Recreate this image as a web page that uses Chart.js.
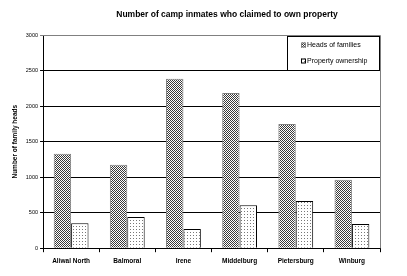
<!DOCTYPE html>
<html>
<head>
<meta charset="utf-8">
<script src="https://cdn.jsdelivr.net/npm/chart.js@4/dist/chart.umd.min.js"></script>
<style>
  html, body { margin: 0; padding: 0; background: #fff; }
  #wrap { width: 407px; height: 276px; position: relative; }
</style>
</head>
<body>
<div id="wrap"><canvas id="chart" width="407" height="276"></canvas></div>
<script>
const camps = ['Aliwal North', 'Balmoral', 'Irene', 'Middelburg', 'Pietersburg', 'Winburg']
const headsOfFamilies = [1330, 1175, 2385, 2185, 1750, 965]
const propertyOwnership = [350, 440, 270, 605, 665, 340]
const yTicks = [0, 500, 1000, 1500, 2000, 2500, 3000]
const seriesNames = ['Heads of families', 'Property ownership']

// little fill patterns like the old office chart
function checkerPattern() {
  const c = document.createElement('canvas')
  c.width = 2; c.height = 2
  const g = c.getContext('2d')
  g.fillStyle = '#fff'
  g.fillRect(0, 0, 2, 2)
  g.fillStyle = '#3a3a3a'
  g.fillRect(0, 0, 1, 1)
  g.fillRect(1, 1, 1, 1)
  return g.createPattern(c, 'repeat')
}

function dotPattern() {
  const c = document.createElement('canvas')
  c.width = 3; c.height = 3
  const g = c.getContext('2d')
  g.fillStyle = '#fff'
  g.fillRect(0, 0, 3, 3)
  g.fillStyle = '#777'
  g.fillRect(1, 1, 1, 1)
  return g.createPattern(c, 'repeat')
}

const heads = checkerPattern()
const dots = dotPattern()

// title sits a bit right of the canvas centre in the original
const shiftTitle = {
  id: 'shiftTitle',
  afterLayout(chart) {
    const t = chart.titleBlock
    t.left = 2 * 227 - t.right
  }
}

// legend box drawn inside the plot, top right
const boxLegend = {
  id: 'boxLegend',
  afterDraw(chart) {
    const ctx = chart.ctx
    const area = chart.chartArea
    const x0 = 287, y0 = Math.round(area.top) + 1, w = Math.round(area.right) - x0, h = 35
    ctx.save()
    ctx.fillStyle = '#fff'
    ctx.fillRect(x0, y0, w, h)
    ctx.strokeStyle = '#000'
    ctx.lineWidth = 1
    ctx.strokeRect(x0 + 0.5, y0 + 0.5, w - 1, h - 1)
    ctx.font = '7px "Liberation Sans", Arial, sans-serif'
    ctx.textBaseline = 'middle'
    const rows = [y0 + 9, y0 + 25]
    // swatches
    ctx.fillStyle = heads
    ctx.fillRect(301, rows[0] - 2.5, 5, 5)
    ctx.strokeStyle = '#808080'
    ctx.strokeRect(301.5, rows[0] - 2, 4, 4)
    ctx.fillStyle = dots
    ctx.fillRect(301, rows[1] - 2.5, 5, 5)
    ctx.strokeStyle = '#000'
    ctx.strokeRect(301.5, rows[1] - 2, 4, 4)
    ctx.fillStyle = '#000'
    ctx.fillText(seriesNames[0], 307, rows[0])
    ctx.fillText(seriesNames[1], 307, rows[1])
    ctx.restore()
  }
}

// gray frame on the right and top of the plot
const frame = {
  id: 'frame',
  beforeDatasetsDraw(chart) {
    const ctx = chart.ctx
    const a = chart.chartArea
    ctx.save()
    ctx.strokeStyle = '#808080'
    ctx.lineWidth = 1
    ctx.beginPath()
    ctx.moveTo(a.left, Math.round(a.top) + 0.5)
    ctx.lineTo(Math.round(a.right) + 0.5, Math.round(a.top) + 0.5)
    ctx.lineTo(Math.round(a.right) + 0.5, a.bottom)
    ctx.stroke()
    ctx.restore()
  }
}

new Chart(document.getElementById('chart'), {
  type: 'bar',
  data: {
    labels: camps,
    datasets: [
      {
        label: seriesNames[0],
        data: headsOfFamilies,
        backgroundColor: heads,
        borderColor: '#808080',
        borderWidth: 1,
        borderSkipped: 'bottom',
        categoryPercentage: 0.62,
        barPercentage: 1.0
      },
      {
        label: seriesNames[1],
        data: propertyOwnership,
        backgroundColor: dots,
        borderColor: '#000',
        borderWidth: 1,
        borderSkipped: 'bottom',
        categoryPercentage: 0.62,
        barPercentage: 1.0
      }
    ]
  },
  options: {
    responsive: false,
    animation: false,
    layout: { padding: { left: 11, right: 27, top: 4, bottom: 6 } },
    plugins: {
      legend: { display: false },
      tooltip: { enabled: false },
      title: {
        display: true,
        text: 'Number of camp inmates who claimed to own property',
        color: '#000',
        font: { family: '"Liberation Sans", Arial, sans-serif', size: 8.5, weight: 'bold' },
        padding: { top: 6, bottom: 15 }
      }
    },
    scales: {
      x: {
        grid: { offset: true, drawOnChartArea: false, color: '#000', tickLength: 4 },
        border: { color: '#000', width: 1 },
        ticks: {
          color: '#000',
          padding: 5,
          font: { family: '"Liberation Sans", Arial, sans-serif', size: 6.5, weight: 'bold' }
        }
      },
      y: {
        min: 0,
        max: 3000,
        afterBuildTicks(axis) { axis.ticks = yTicks.map(v => ({ value: v })) },
        grid: {
          color: (c) => c.tick && c.tick.value === 3000 ? '#808080' : '#000',
          tickLength: 3
        },
        border: { color: '#000', width: 1 },
        ticks: {
          color: '#000',
          padding: 2,
          callback: (v) => String(v),
          font: { family: '"Liberation Sans", Arial, sans-serif', size: 5.5 }
        },
        title: {
          display: true,
          text: 'Number of family heads',
          color: '#000',
          font: { family: '"Liberation Sans", Arial, sans-serif', size: 6.5, weight: 'bold' },
          padding: { top: 0, bottom: 5 }
        }
      }
    }
  },
  plugins: [shiftTitle, frame, boxLegend]
})
</script>
</body>
</html>
